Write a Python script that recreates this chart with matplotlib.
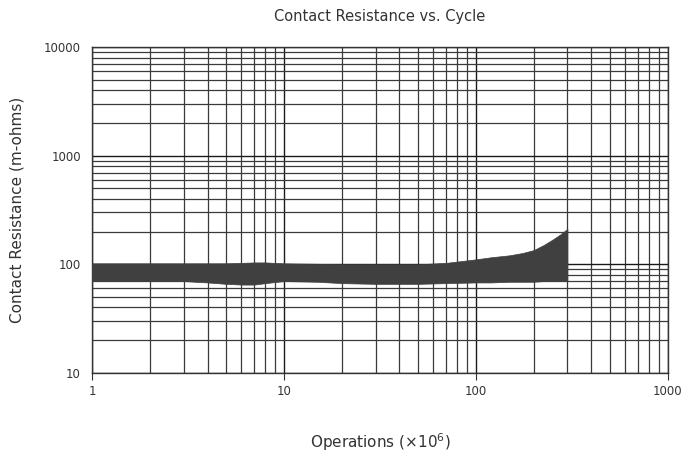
import matplotlib
matplotlib.use("Agg")
import matplotlib.pyplot as plt
import numpy as np

# band of contact resistance readings (m-ohms) vs operations (x10^6)
ops = [1, 2, 3, 4, 5, 6, 7, 8, 10, 15, 20, 30, 50, 70, 100, 120, 150, 175, 200, 225, 250, 275, 300]
upper = [102, 102, 102, 102, 102, 103, 104, 104, 102, 101, 100, 100, 100, 103, 111, 116, 121, 127, 135, 150, 168, 188, 212]
lower = [70, 70, 70, 68, 66, 65, 65, 67, 70, 69, 67, 66, 66, 67, 68, 68, 69, 69, 69, 70, 70, 70, 70]

x_ticks = [1, 10, 100, 1000]
y_ticks = [10, 100, 1000, 10000]

fig = plt.figure(figsize=(6.87, 4.58), dpi=100)
ax = fig.add_axes([0.134, 0.186, 0.838, 0.711])

ax.set_xscale('log')
ax.set_yscale('log')
ax.set_xlim(1, 1000)
ax.set_ylim(10, 10000)

ax.grid(True, which='major', color='#1a1a1a', lw=1.0)
ax.grid(True, which='minor', color='#3a3a3a', lw=0.9)
ax.set_axisbelow(True)

ax.fill_between(ops, lower, upper, color='#404040', lw=0.5, edgecolor='#404040', zorder=3)

ax.set_xticks(x_ticks)
ax.set_xticklabels([str(v) for v in x_ticks])
ax.set_yticks(y_ticks)
ax.set_yticklabels([str(v) for v in y_ticks])
ax.tick_params(axis='both', which='major', labelsize=8.5, colors='#333333', length=5)
ax.tick_params(axis='both', which='minor', length=0)
ax.tick_params(axis='y', length=0, pad=8)

for s in ax.spines.values():
    s.set_color('#333333')
    s.set_linewidth(1.0)

ax.set_title('Contact Resistance vs. Cycle', fontsize=10.5, color='#333333', pad=19)
ax.set_xlabel('Operations (×10$^{6}$)', fontsize=11, color='#333333', labelpad=24)
ax.set_ylabel('Contact Resistance (m-ohms)', fontsize=11, color='#333333', labelpad=14)

fig.savefig('out.png', dpi=100)
